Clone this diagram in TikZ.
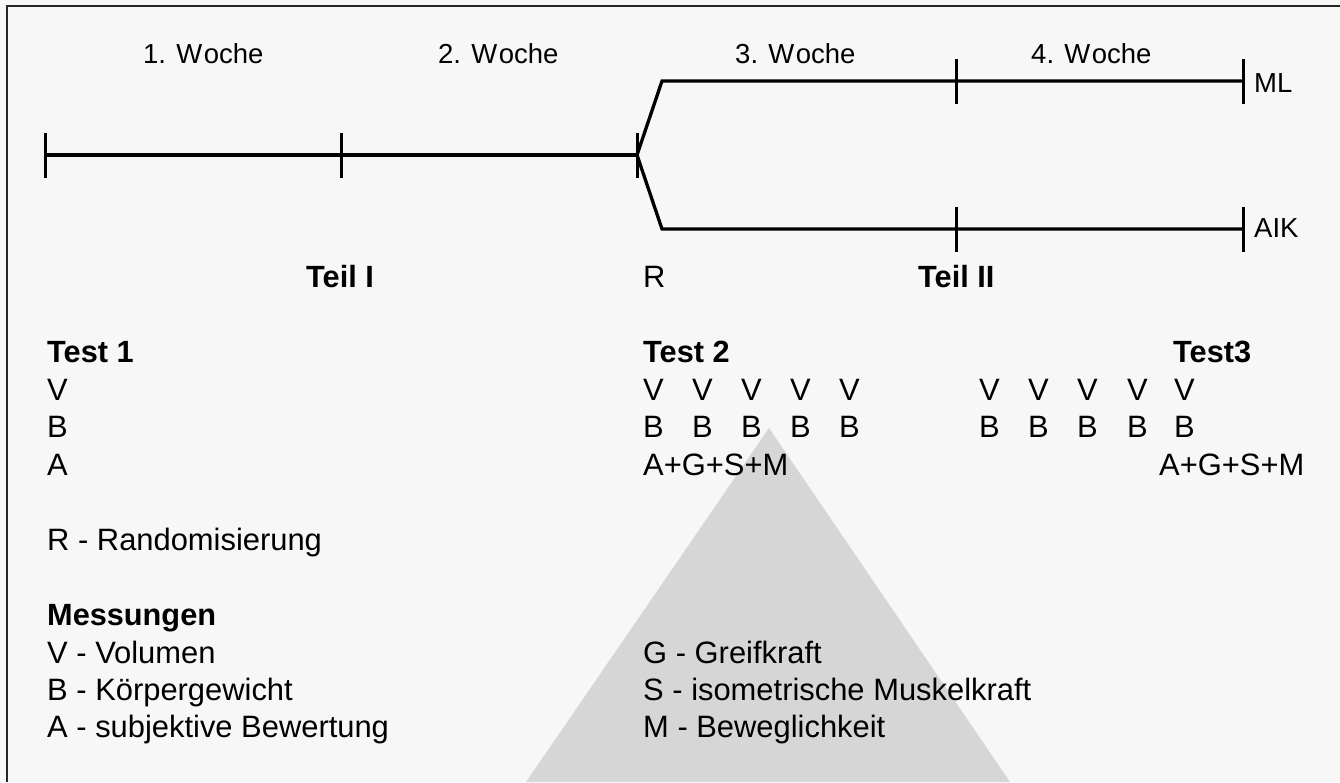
\documentclass[tikz,border=0pt]{standalone}
\usepackage{fontspec}
\setmainfont{Liberation Sans}
\definecolor{paper}{HTML}{F7F7F7}
\definecolor{wedge}{HTML}{D6D6D6}
\begin{document}
\begin{tikzpicture}[x=1pt,y=-1pt,
  txt/.style={inner sep=0pt, anchor=base west, text=black, font=\fontsize{30.9}{37}\selectfont},
  hd/.style={txt, font=\fontsize{30.7}{37}\selectfont\bfseries},
  wk/.style={inner sep=0pt, anchor=base west, text=black, font=\fontsize{27.5}{33}\selectfont},
  tl/.style={line width=3.3pt, black, line join=miter},
  tick/.style={line width=3pt, black},
  frame/.style={line width=1.6pt, black!85}]
\useasboundingbox (0,0) rectangle (1340,782);
\fill[paper] (0,0) rectangle (1340,782);
% grey pyramid behind the text
\fill[wedge] (769,428) -- (1010,782) -- (526,782) -- cycle;
% open frame (top and left edges)
\draw[frame] (7,782) -- (7,6) -- (1340,6);

% timeline
\coordinate (s0) at (45,155);
\coordinate (s1) at (341,155);
\coordinate (s2) at (637,155);
\coordinate (u0) at (662,81);
\coordinate (u1) at (956,81);
\coordinate (u2) at (1243,81);
\coordinate (l0) at (662,229);
\coordinate (l1) at (956,229);
\coordinate (l2) at (1243,229);
\draw[tl] (s0) -- (s1) -- (s2);
\draw[tl] (s2) -- (u0) -- (u1) -- (u2);
\draw[tl] (s2) -- (l0) -- (l1) -- (l2);
\foreach \c in {s0,s1,s2,u1,u2,l1,l2}
  \draw[tick] ([yshift=22.5pt]\c) -- ([yshift=-22.5pt]\c);

% week labels and arm labels
\node[wk] (w1) at (143,63) {1. W\kern1.5pt oche};
\node[wk] (w2) at (438,63) {2. W\kern1.5pt oche};
\node[wk] (w3) at (735,63) {3. W\kern1.5pt oche};
\node[wk] (w4) at (1031,63) {4. W\kern1.5pt oche};
\node[wk] (ml) at (1254,92) {ML};
\node[wk] (aik) at (1254,237) {AIK};

% phases
\node[hd] (teil1) at (306,287) {Teil I};
\node[txt] (rand) at (643,287) {R};
\node[hd] (teil2) at (918,287) {Teil II};

% test 1
\node[hd] (test1) at (47,362) {Test 1};
\node[txt] (v1) at (47,400) {V};
\node[txt] (b1) at (47,437) {B};
\node[txt] (a1) at (47,475) {A};

% test 2
\node[hd] (test2) at (643,362) {Test 2};
\foreach \x [count=\i] in {643,692,741,790,839} {
  \node[txt] (vb\i) at (\x,400) {V};
  \node[txt] (bb\i) at (\x,437) {B};
}
\node[txt] (agsm2) at (643,475) {A+G+S+M};

% test 3
\node[hd] (test3) at (1173,362) {Test3};
\foreach \x [count=\i] in {979,1028,1077,1127,1174} {
  \node[txt] (vc\i) at (\x,400) {V};
  \node[txt] (bc\i) at (\x,437) {B};
}
\node[txt] (agsm3) at (1159,475) {A+G+S+M};

% legend
\node[txt] (legr) at (47,550) {R - Randomisierung};
\node[hd] (mess) at (47,625) {Messungen};
\node[txt] (legv) at (47,663) {V - Volumen};
\node[txt] (legb) at (47,700) {B - Körpergewicht};
\node[txt] (lega) at (47,737) {A - subjektive Bewertung};
\node[txt] (legg) at (643,663) {G - Greifkraft};
\node[txt] (legs) at (643,700) {S - isometrische Muskelkraft};
\node[txt] (legm) at (643,737) {M - Beweglichkeit};
\end{tikzpicture}
\end{document}
